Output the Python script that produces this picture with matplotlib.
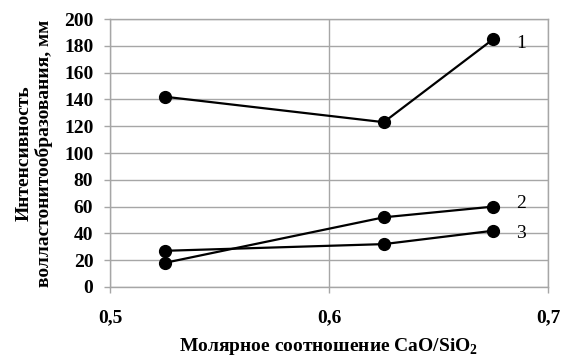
import matplotlib
matplotlib.use('Agg')
import matplotlib.pyplot as plt

# Данные
ratio = [0.525, 0.625, 0.675]
series_1 = [142, 123, 185]
series_2 = [18, 52, 60]
series_3 = [27, 32, 42]
series_names = ['1', '2', '3']

x_ticks = [0.5, 0.6, 0.7]
x_tick_labels = ['0,5', '0,6', '0,7']
y_ticks = [0, 20, 40, 60, 80, 100, 120, 140, 160, 180, 200]

plt.rcParams['font.family'] = ['Liberation Serif', 'DejaVu Serif']
plt.rcParams['mathtext.fontset'] = 'custom'
plt.rcParams['mathtext.rm'] = 'Liberation Serif'
plt.rcParams['mathtext.bf'] = 'Liberation Serif:bold'

grid_color = '#a6a6a6'

fig = plt.figure(figsize=(5.63, 3.6), dpi=100)
ax = fig.add_axes([0.1954, 0.2028, 0.778, 0.7444])

# смещение подписей серий по вертикали (в пунктах)
label_dy = [-3, 2, -2]
for values, name, dy in zip([series_1, series_2, series_3], series_names, label_dy):
    ax.plot(ratio, values, color='black', linewidth=1.6, marker='o',
            markersize=8.5, zorder=3)
    ax.annotate(name, (ratio[-1], values[-1]), xytext=(20, dy),
                textcoords='offset points', fontsize=14, ha='center', va='center')

ax.set_xlim(0.5, 0.7)
ax.set_ylim(0, 200)
ax.set_xticks(x_ticks)
ax.set_xticklabels(x_tick_labels, fontweight='bold', fontsize=14)
ax.set_yticks(y_ticks)
ax.set_yticklabels([str(v) for v in y_ticks], fontweight='bold', fontsize=14)

ax.grid(True, color=grid_color, linewidth=1)
ax.set_axisbelow(True)
for spine in ax.spines.values():
    spine.set_color(grid_color)
    spine.set_linewidth(1)
ax.tick_params(axis='both', direction='out', length=4, color=grid_color, width=1)
ax.tick_params(axis='x', pad=12)
ax.tick_params(axis='y', pad=8)

ax.set_xlabel(r'Молярное соотношение CaO/SiO$_{\mathbf{2}}$', fontweight='bold',
              fontsize=14, labelpad=7)
ax.set_ylabel('Интенсивность\nволластонитообразования, мм', fontweight='bold',
              fontsize=14, labelpad=8, linespacing=1.15)

fig.savefig('out.png', dpi=100)
